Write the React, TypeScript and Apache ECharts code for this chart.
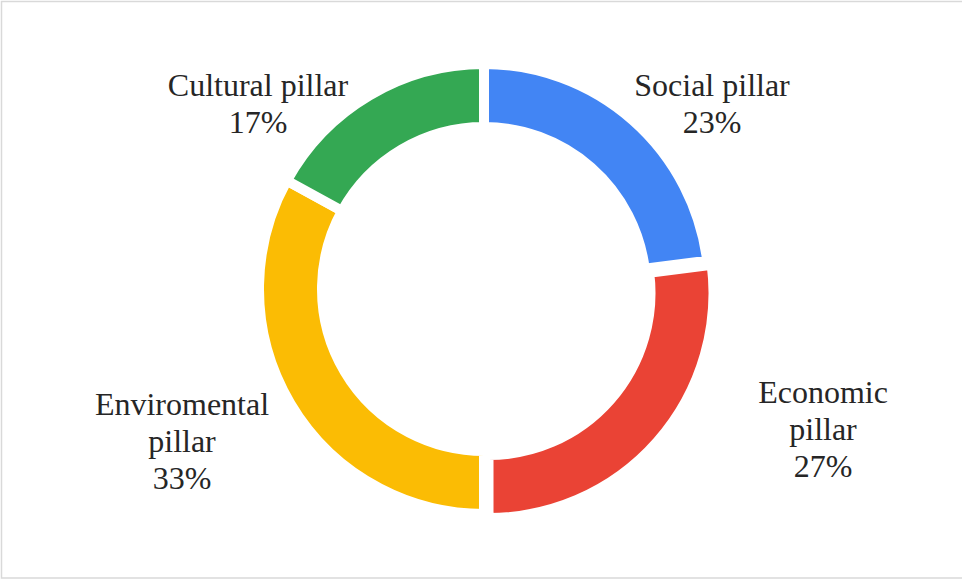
import React, { useEffect, useRef } from "react";
import * as echarts from "echarts";

const categories = ["Social pillar", "Economic\npillar", "Enviromental\npillar", "Cultural pillar"];
const values = [23, 27, 33, 17];
const colors = ["#4285F4", "#EA4335", "#FBBC04", "#34A853"];
const explodedIndex = 1;
const labelPos = [
  [712, 103],
  [823, 429],
  [182, 441],
  [258, 103],
];

export default function App() {
  const ref = useRef<HTMLDivElement>(null);
  useEffect(() => {
    document.body.style.margin = "0";
    const chart = echarts.init(ref.current!, null, { renderer: "svg" });
    const base = {
      type: "pie",
      radius: [162, 225],
      startAngle: 90,
      clockwise: true,
      emphasis: { disabled: true },
      labelLine: { show: false },
    };
    chart.setOption({
      animation: false,
      backgroundColor: "#ffffff",
      graphic: [
        {
          type: "polyline",
          shape: { points: [[962, 1.5], [1.5, 1.5], [1.5, 578], [962, 578]] },
          style: { fill: "none", stroke: "#d9d9d9", lineWidth: 1.5 },
          silent: true,
        },
      ],
      series: [
        {
          ...base,
          center: [484, 289],
          label: {
            show: true,
            formatter: (p: any) => `${p.name}\n${p.value}%`,
            fontFamily: "Liberation Serif",
            fontSize: 32,
            lineHeight: 37,
            color: "#262626",
            align: "center",
          },
          labelLayout: (p: any) => ({
            x: labelPos[p.dataIndex][0],
            y: labelPos[p.dataIndex][1],
            align: "center",
            verticalAlign: "middle",
          }),
          data: categories.map((name, i) => ({
            name,
            value: values[i],
            itemStyle:
              i === explodedIndex
                ? { color: "transparent", borderWidth: 0 }
                : { color: colors[i], borderColor: "#ffffff", borderWidth: 10 },
          })),
        },
        {
          ...base,
          center: [488.5, 293],
          label: { show: false },
          silent: true,
          data: categories.map((name, i) => ({
            name,
            value: values[i],
            itemStyle:
              i === explodedIndex
                ? { color: colors[i], borderColor: "#ffffff", borderWidth: 10 }
                : { color: "transparent", borderWidth: 0 },
          })),
        },
      ],
    });
    return () => chart.dispose();
  }, []);
  return <div ref={ref} style={{ width: 962, height: 580 }} />;
}
